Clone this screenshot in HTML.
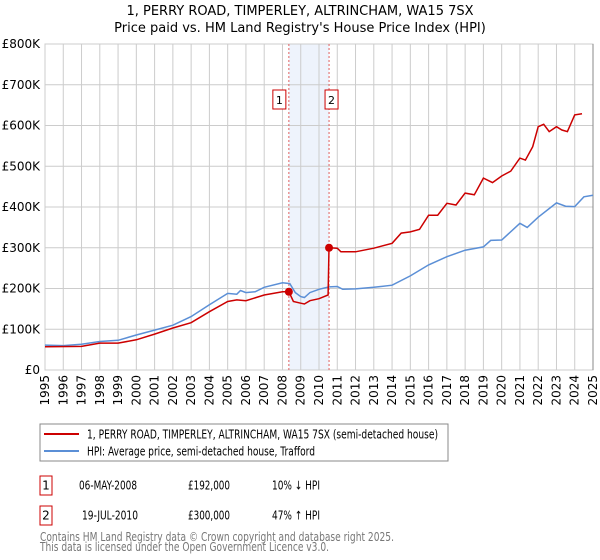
<!DOCTYPE html>
<html><head><meta charset="utf-8"><style>
body{margin:0;background:#fff;font-family:"Liberation Sans","DejaVu Sans",sans-serif;}
svg{display:block}
</style></head><body>
<svg width="600" height="560" xmlns="http://www.w3.org/2000/svg" font-family="DejaVu Sans, Liberation Sans, sans-serif">
<text x="300" y="15" text-anchor="middle" font-size="13">1, PERRY ROAD, TIMPERLEY, ALTRINCHAM, WA15 7SX</text>
<text x="300" y="32" text-anchor="middle" font-size="13">Price paid vs. HM Land Registry's House Price Index (HPI)</text>
<g id="plot"></g>
<rect x="40" y="424" width="408" height="37" fill="#fff" stroke="#888"/>
<line x1="44" y1="434" x2="79" y2="434" stroke="#cc0000" stroke-width="2"/>
<text x="87" y="438.5" font-size="12" textLength="351" lengthAdjust="spacingAndGlyphs">1, PERRY ROAD, TIMPERLEY, ALTRINCHAM, WA15 7SX (semi-detached house)</text>
<line x1="44" y1="451" x2="79" y2="451" stroke="#5b8fd6" stroke-width="2"/>
<text x="87" y="455.5" font-size="12" textLength="228" lengthAdjust="spacingAndGlyphs">HPI: Average price, semi-detached house, Trafford</text>
<g font-size="12">
<rect x="40" y="476" width="12" height="19" fill="#fff" stroke="#cc0000"/>
<text x="46" y="489.5" text-anchor="middle">1</text>
<text x="79" y="489.5" textLength="58" lengthAdjust="spacingAndGlyphs">06-MAY-2008</text>
<text x="188" y="489.5" textLength="42" lengthAdjust="spacingAndGlyphs">£192,000</text>
<text x="272" y="489.5" textLength="48" lengthAdjust="spacingAndGlyphs">10% ↓ HPI</text>
<rect x="40" y="506" width="12" height="19" fill="#fff" stroke="#cc0000"/>
<text x="46" y="519.5" text-anchor="middle">2</text>
<text x="82" y="519.5" textLength="56" lengthAdjust="spacingAndGlyphs">19-JUL-2010</text>
<text x="188" y="519.5" textLength="42" lengthAdjust="spacingAndGlyphs">£300,000</text>
<text x="272" y="519.5" textLength="48" lengthAdjust="spacingAndGlyphs">47% ↑ HPI</text>
</g>
<text x="40" y="541" font-size="12" fill="#777" textLength="354" lengthAdjust="spacingAndGlyphs">Contains HM Land Registry data © Crown copyright and database right 2025.</text>
<text x="40" y="551" font-size="12" fill="#777" textLength="289" lengthAdjust="spacingAndGlyphs">This data is licensed under the Open Government Licence v3.0.</text>
</svg>
<script>
const yTicks=[0,100000,200000,300000,400000,500000,600000,700000,800000];
const yTickLabels=["£0","£100K","£200K","£300K","£400K","£500K","£600K","£700K","£800K"];
const xYears=[1995,1996,1997,1998,1999,2000,2001,2002,2003,2004,2005,2006,2007,2008,2009,2010,2011,2012,2013,2014,2015,2016,2017,2018,2019,2020,2021,2022,2023,2024,2025];
const saleDates=[2008.35,2010.55];
const salePrices=[192000,300000];
const saleLabels=["1","2"];
const hpiT=[1995,1996,1997,1998,1999,2000,2001,2002,2003,2004,2005,2005.5,2005.7,2006,2006.5,2007,2008,2008.4,2008.7,2009,2009.2,2009.5,2010,2010.55,2011,2011.3,2012,2013,2014,2015,2016,2017,2018,2019,2019.4,2020,2021,2021.4,2022,2023,2023.5,2024,2024.5,2025];
const hpiV=[61000,60000,63000,70000,73000,86000,98000,110000,131000,160000,188000,186000,195000,190000,192000,203000,214000,212000,190000,180000,178000,190000,198000,204000,205000,198000,199000,203000,208000,231000,258000,278000,294000,302000,318000,319000,360000,350000,375000,410000,402000,401000,425000,429000];
const propT=[1995,1997,1998,1999,2000,2001,2002,2003,2004,2005,2005.5,2006,2007,2008,2008.35,2008.6,2009,2009.2,2009.5,2010,2010.5,2010.55,2011,2011.2,2012,2013,2014,2014.5,2015,2015.5,2016,2016.5,2017,2017.5,2018,2018.5,2019,2019.5,2020,2020.5,2021,2021.3,2021.7,2022,2022.3,2022.6,2023,2023.3,2023.6,2024,2024.4];
const propV=[57000,58000,66000,66000,74000,88000,103000,116000,143000,168000,172000,170000,184000,192000,192000,168000,164000,162000,170000,175000,184000,300000,299000,290000,290000,299000,311000,336000,339000,345000,380000,380000,409000,405000,434000,430000,471000,460000,476000,488000,520000,515000,548000,597000,603000,585000,597000,589000,585000,626000,629000];
const L=45,R=593,T=44,B=370;
const xS=y=>L+(y-1995)/30*(R-L);
const yS=v=>B-v/800000*(B-T);
const NS="http://www.w3.org/2000/svg";
const g=document.getElementById('plot');
function mk(tag,at,parent){const e=document.createElementNS(NS,tag);for(const k in at)e.setAttribute(k,at[k]);(parent||g).appendChild(e);return e;}
let e;
e=mk('rect',{x:xS(saleDates[0]),y:T,width:xS(saleDates[1])-xS(saleDates[0]),height:B-T,fill:'#eef3fc'});


yTicks.forEach((v,i)=>{
 e=mk('line',{x1:L,x2:R,y1:yS(v),y2:yS(v),stroke:'#ccc'});
 
 
 e=mk('text',{x:40,y:yS(v)+4,'text-anchor':'end','font-size':12});
 e.textContent=yTickLabels[i];
 
 
});
xYears.forEach(y=>{
 e=mk('line',{x1:xS(y),x2:xS(y),y1:T,y2:B,stroke:'#ccc'});
 
 
 e=mk('text',{x:0,y:0,'text-anchor':'end','font-size':12,transform:`translate(${xS(y)+4},375) rotate(-90)`});
 e.textContent=y;
 
 
});
e=mk('rect',{x:L,y:T,width:R-L,height:B-T,fill:'none',stroke:'#ccc'});


e=mk('line',{x1:R,x2:R,y1:T,y2:B,stroke:'#888'});


saleDates.forEach((d,i)=>{
 e=mk('line',{x1:xS(d),x2:xS(d),y1:T,y2:B,stroke:'#e06060','stroke-dasharray':'2,2','stroke-width':1});
 
 
 e=mk('rect',{x:xS(d)-(i?4:16),y:90,width:13,height:19,fill:'#fff',stroke:'#cc0000'});
 
 
 e=mk('text',{x:xS(d)-(i?4:16)+6.5,y:104,'text-anchor':'middle','font-size':11});
 e.textContent=saleLabels[i];
 
 
});
function path(ts,vs){return ts.map((t,i)=>(i?'L':'M')+xS(t).toFixed(1)+','+yS(vs[i]).toFixed(1)).join('');}
e=mk('path',{d:path(hpiT,hpiV),fill:'none',stroke:'#5b8fd6','stroke-width':1.5});


e=mk('path',{d:path(propT,propV),fill:'none',stroke:'#cc0000','stroke-width':1.5});


saleDates.forEach((d,i)=>{
 e=mk('circle',{cx:xS(d),cy:yS(salePrices[i]),r:4,fill:'#cc0000'});
 
 
});
</script>
</body></html>
